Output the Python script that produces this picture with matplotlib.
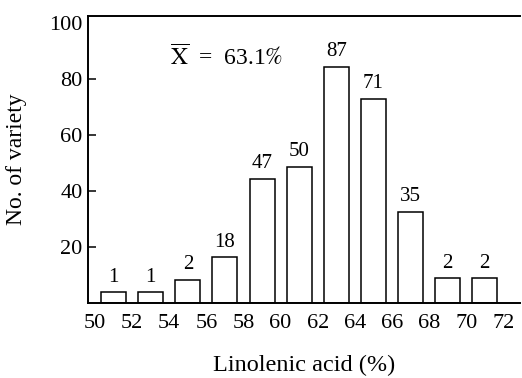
import matplotlib
matplotlib.use("Agg")
import matplotlib.pyplot as plt

# Data
bin_centers = [51, 53, 55, 57, 59, 61, 63, 65, 67, 69, 71]
bar_heights = [3.8, 3.8, 8.2, 16.3, 44.3, 48.7, 84.4, 72.9, 32.6, 8.8, 8.8]
count_labels = ["1", "1", "2", "18", "47", "50", "87", "71", "35", "2", "2"]
x_ticks = [50, 52, 54, 56, 58, 60, 62, 64, 66, 68, 70, 72]
y_ticks = [20, 40, 60, 80, 100]
mean_text = r"$\overline{\mathrm{X}}\ $ = $\ $63.1$\mathit{\%}$"

plt.rcParams["font.family"] = ["Liberation Serif", "DejaVu Serif"]
plt.rcParams["mathtext.fontset"] = "stix"

fig = plt.figure(figsize=(5.22, 3.78), dpi=100)
ax = fig.add_axes([88 / 522, 1 - 303 / 378, (520 - 88) / 522, (303 - 16) / 378])

ax.bar(bin_centers, bar_heights, width=1.35, facecolor="white",
       edgecolor="black", linewidth=1.1)
for xc, h, lab in zip(bin_centers, bar_heights, count_labels):
    ax.annotate(lab, (xc, h), xytext=(0, 4), textcoords="offset points",
                ha="center", va="bottom", fontsize=15)

ax.set_xlim(49.62, 72.9)
ax.set_ylim(0, 102.5)
ax.set_xticks(x_ticks)
ax.set_xticklabels([str(t) for t in x_ticks])
ax.set_yticks(y_ticks)
ax.set_yticklabels([str(t) for t in y_ticks])
ax.tick_params(axis="x", length=0, pad=8, labelsize=16)
ax.tick_params(axis="y", direction="in", length=6, width=1.1, pad=4, labelsize=16)
ax.yaxis.get_major_ticks()[-1].tick1line.set_visible(False)

for s in ["left", "bottom", "top"]:
    ax.spines[s].set_linewidth(1.4)
ax.spines["right"].set_visible(False)

ax.text(54.05, 88, mean_text, fontsize=17, ha="left", va="center")

ax.set_xlabel("Linolenic acid (%)", fontsize=17.5, labelpad=16)
ax.set_ylabel("No. of variety", fontsize=17, labelpad=16)

fig.savefig("out.png", dpi=100)
